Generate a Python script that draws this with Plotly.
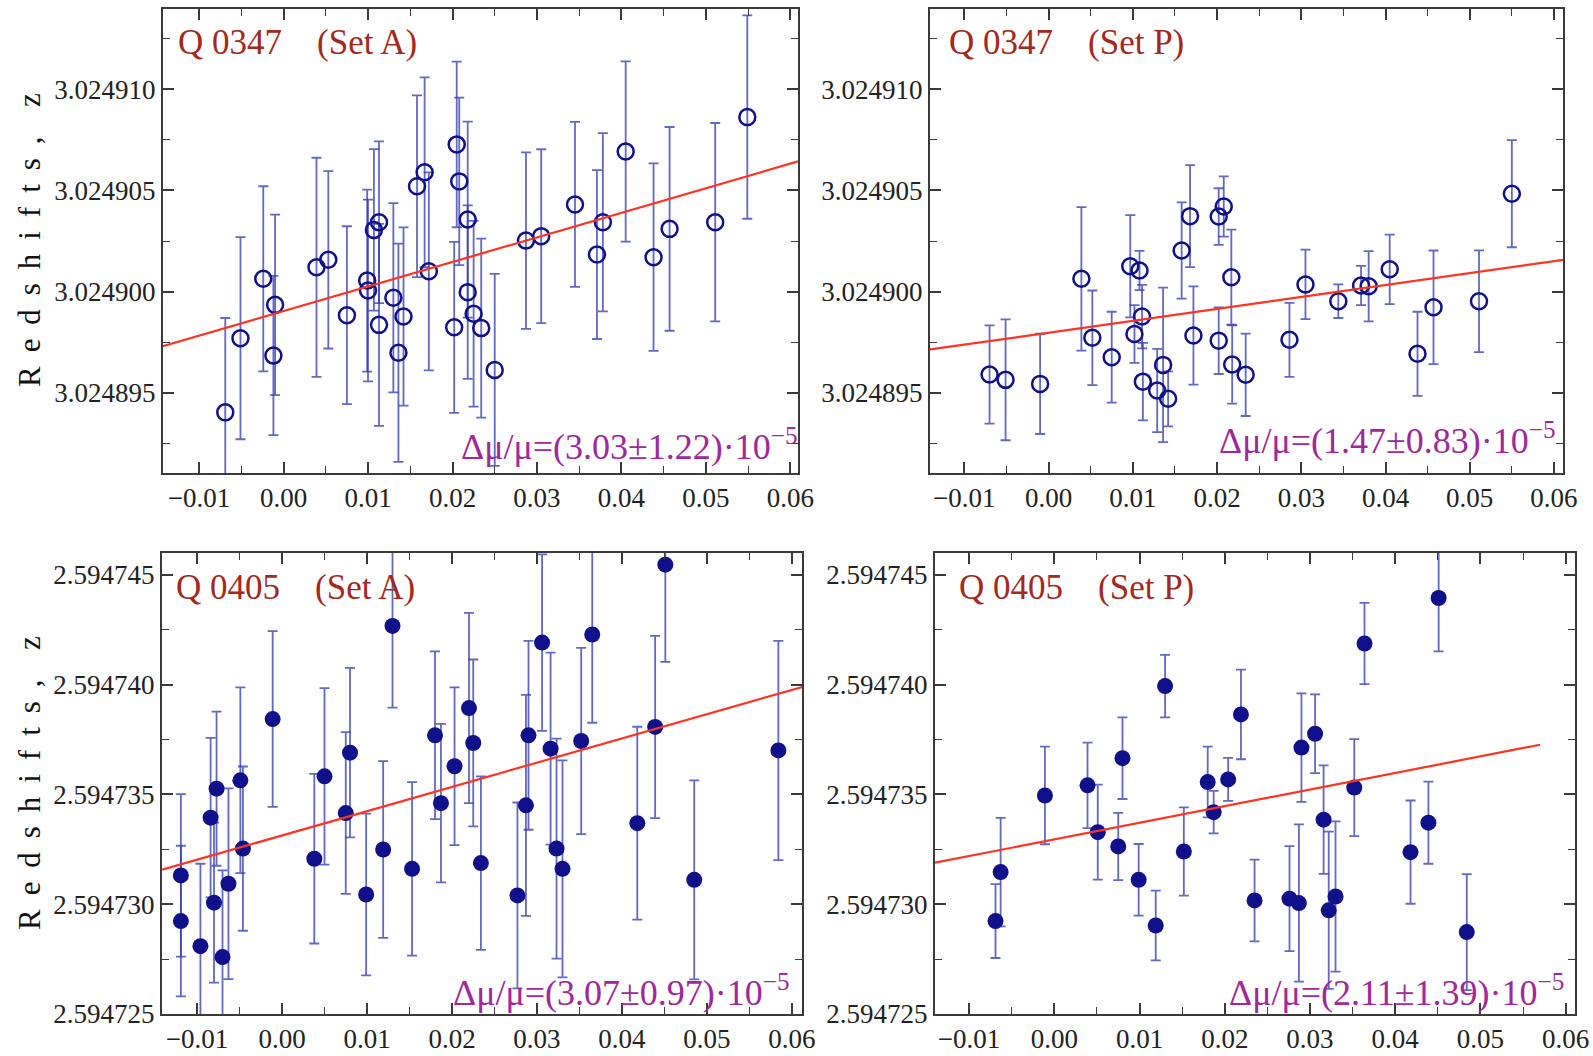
import plotly.graph_objects as go

# ---------------- data ----------------
# Q 0347, Set A
x_q0347_A = [-0.0069, -0.0051, -0.0024, -0.0010, -0.0012, 0.0039, 0.0053, 0.0075, 0.0099, 0.0100,
             0.0107, 0.0113, 0.0113, 0.0130, 0.0136, 0.0142, 0.0158, 0.0167, 0.0172, 0.0205,
             0.0208, 0.0218, 0.0218, 0.0202, 0.0225, 0.0234, 0.0250, 0.0287, 0.0305, 0.0345,
             0.0371, 0.0378, 0.0405, 0.0438, 0.0457, 0.0511, 0.0549]
z_q0347_A = [3.02489402, 3.02489769, 3.02490063, 3.02489934, 3.02489683, 3.02490120, 3.02490157, 3.02489883, 3.02490054, 3.02490005,
             3.02490305, 3.02490343, 3.02489835, 3.02489969, 3.02489697, 3.02489876, 3.02490521, 3.02490590, 3.02490100, 3.02490728,
             3.02490545, 3.02490356, 3.02489997, 3.02489823, 3.02489890, 3.02489819, 3.02489612, 3.02490252, 3.02490274, 3.02490431,
             3.02490183, 3.02490343, 3.02490693, 3.02490170, 3.02490310, 3.02490343, 3.02490863]
err_q0347_A_1e6 = [4.67, 5.00, 4.58, 4.47, 3.94, 5.42, 4.39, 4.40, 4.50, 4.50,
                   4.00, 4.00, 5.00, 4.68, 5.40, 4.41, 4.50, 4.70, 4.90, 4.10,
                   4.14, 4.85, 4.29, 4.23, 4.60, 4.43, 4.75, 4.37, 4.30, 4.08,
                   4.18, 4.41, 4.46, 4.64, 5.04, 4.91, 5.03]
fit_q0347_A_x = [-0.0143, 0.0609]
fit_q0347_A_z = [3.02489729, 3.02490644]

# Q 0347, Set P
x_q0347_P = [-0.0070, -0.0051, -0.0010, 0.0039, 0.0052, 0.0075, 0.0097, 0.0108, 0.0102, 0.0111,
             0.0112, 0.0129, 0.0136, 0.0142, 0.0158, 0.0168, 0.0172, 0.0202, 0.0208, 0.0217,
             0.0202, 0.0218, 0.0234, 0.0286, 0.0305, 0.0344, 0.0371, 0.0380, 0.0405, 0.0438,
             0.0457, 0.0511, 0.0550]
z_q0347_P = [3.02489589, 3.02489563, 3.02489543, 3.02490063, 3.02489771, 3.02489675, 3.02490125, 3.02490104, 3.02489790, 3.02489876,
             3.02489554, 3.02489510, 3.02489637, 3.02489469, 3.02490203, 3.02490373, 3.02489782, 3.02490371, 3.02490421, 3.02490071,
             3.02489757, 3.02489639, 3.02489588, 3.02489761, 3.02490035, 3.02489952, 3.02490030, 3.02490026, 3.02490110, 3.02489692,
             3.02489922, 3.02489952, 3.02490484]
err_q0347_P_1e6 = [2.43, 2.99, 2.48, 3.55, 2.34, 2.25, 2.53, 0.97, 1.43, 1.57,
                   1.92, 2.06, 3.82, 1.36, 2.38, 2.52, 2.43, 1.40, 1.49, 2.35,
                   1.65, 1.94, 2.04, 1.83, 1.72, 0.83, 0.97, 1.74, 1.72, 2.08,
                   2.81, 2.52, 2.65]
fit_q0347_P_x = [-0.0141, 0.0611]
fit_q0347_P_z = [3.02489713, 3.02490157]

# Q 0405, Set A
x_q0405_A = [-0.0119, -0.0119, -0.0096, -0.0084, -0.0077, -0.0080, -0.0063, -0.0070, -0.0049, -0.0046,
             -0.0011, 0.0038, 0.0050, 0.0075, 0.0080, 0.0099, 0.0119, 0.0130, 0.0153, 0.0180,
             0.0187, 0.0203, 0.0220, 0.0225, 0.0234, 0.0277, 0.0287, 0.0290, 0.0306, 0.0316,
             0.0323, 0.0330, 0.0352, 0.0365, 0.0418, 0.0439, 0.0451, 0.0485, 0.0584]
z_q0405_A = [2.59473131, 2.59472923, 2.59472809, 2.59473394, 2.59473526, 2.59473007, 2.59473093, 2.59472759, 2.59473564, 2.59473253,
             2.59473843, 2.59473207, 2.59473582, 2.59473415, 2.59473690, 2.59473044, 2.59473249, 2.59474267, 2.59473161, 2.59473769,
             2.59473460, 2.59473628, 2.59473893, 2.59473734, 2.59473187, 2.59473040, 2.59473450, 2.59473769, 2.59474191, 2.59473708,
             2.59473253, 2.59473161, 2.59473743, 2.59474228, 2.59473369, 2.59473807, 2.59474546, 2.59473111, 2.59473700]
err_q0405_A_1e6 = [3.70, 3.43, 3.75, 3.63, 3.51, 3.64, 4.34, 3.95, 4.23, 3.74,
                   4.00, 3.86, 4.02, 3.68, 3.86, 3.68, 4.02, 3.72, 3.95, 3.82,
                   3.61, 3.59, 4.33, 3.80, 3.95, 4.23, 5.03, 4.30, 4.02, 4.37,
                   5.01, 4.94, 4.24, 4.02, 4.39, 4.15, 4.43, 4.53, 4.99]
fit_q0405_A_x = [-0.0141, 0.0612]
fit_q0405_A_z = [2.59473157, 2.59473989]

# Q 0405, Set P
x_q0405_P = [-0.0069, -0.0063, -0.0011, 0.0039, 0.0051, 0.0075, 0.0080, 0.0099, 0.0119, 0.0130,
             0.0152, 0.0180, 0.0187, 0.0204, 0.0219, 0.0235, 0.0276, 0.0287, 0.0290, 0.0306,
             0.0316, 0.0322, 0.0330, 0.0352, 0.0364, 0.0418, 0.0439, 0.0451, 0.0484]
z_q0405_P = [2.59472923, 2.59473146, 2.59473495, 2.59473541, 2.59473328, 2.59473263, 2.59473665, 2.59473111, 2.59472903, 2.59473993,
             2.59473240, 2.59473556, 2.59473419, 2.59473568, 2.59473864, 2.59473017, 2.59473025, 2.59473005, 2.59473713, 2.59473776,
             2.59473385, 2.59472972, 2.59473035, 2.59473531, 2.59474187, 2.59473237, 2.59473371, 2.59474394, 2.59472873]
err_q0405_P_1e6 = [1.68, 2.47, 2.22, 1.95, 2.16, 1.53, 1.86, 1.63, 1.59, 1.42,
                   2.01, 1.61, 0.97, 0.98, 2.04, 1.86, 2.39, 3.58, 2.47, 1.79,
                   2.47, 3.58, 3.42, 2.21, 1.85, 2.35, 1.87, 2.43, 2.64]
fit_q0405_P_x = [-0.0140, 0.0570]
fit_q0405_P_z = [2.59473189, 2.59473726]

panel_titles = ["Q 0347    (Set A)", "Q 0347    (Set P)", "Q 0405    (Set A)", "Q 0405    (Set P)"]
panel_results = ["Δμ/μ=(3.03±1.22)·10<sup>−5</sup>", "Δμ/μ=(1.47±0.83)·10<sup>−5</sup>",
                 "Δμ/μ=(3.07±0.97)·10<sup>−5</sup>", "Δμ/μ=(2.11±1.39)·10<sup>−5</sup>"]
y_title = "R\u2009 e\u2009 d\u2009 s\u2009 h\u2009 i\u2009 f\u2009 t\u2009 s\u2009 ,\u2009   z"

# ---------------- layout helpers ----------------
W, H = 1593, 1056
ML, MR, MT, MB = 150, 10, 5, 35
PW, PH = W - ML - MR, H - MT - MB


def px_x(p):
    return (p - ML) / PW


def px_y(p):
    return (H - MB - p) / PH


FONT = "Liberation Serif"
NAVY = "#10108a"
ERRC = "rgba(45,55,178,0.75)"
FITC = "#ff3322"
TITLEC = "#a4281c"
RESC = "#a0289a"

panels = [
    dict(x=x_q0347_A, z=z_q0347_A, e=err_q0347_A_1e6, fx=fit_q0347_A_x, fz=fit_q0347_A_z,
         box=(163, 798, 9, 473), xr=[-0.01427, 0.0609], yr=[3.02489102, 3.02491398],
         open=True, tick0=3.024895, title_pos=(176, 42), res_pos=(800, 444)),
    dict(x=x_q0347_P, z=z_q0347_P, e=err_q0347_P_1e6, fx=fit_q0347_P_x, fz=fit_q0347_P_z,
         box=(930, 1563, 9, 473), xr=[-0.01407, 0.06107], yr=[3.02489102, 3.02491398],
         open=True, tick0=3.024895, title_pos=(947, 42), res_pos=(1558, 438)),
    dict(x=x_q0405_A, z=z_q0405_A, e=err_q0405_A_1e6, fx=fit_q0405_A_x, fz=fit_q0405_A_z,
         box=(162, 802, 553, 1014), xr=[-0.01412, 0.06118], yr=[2.594725, 2.59474599],
         open=False, tick0=2.594725, title_pos=(174, 587), res_pos=(792, 990)),
    dict(x=x_q0405_P, z=z_q0405_P, e=err_q0405_P_1e6, fx=fit_q0405_P_x, fz=fit_q0405_P_z,
         box=(935, 1575, 553, 1014), xr=[-0.0140, 0.0611], yr=[2.594725, 2.59474599],
         open=False, tick0=2.594725, title_pos=(957, 587), res_pos=(1566, 990)),
]

fig = go.Figure()
annotations = []
for i, p in enumerate(panels, start=1):
    xa = "x" if i == 1 else f"x{i}"
    ya = "y" if i == 1 else f"y{i}"
    if p["open"]:
        marker = dict(symbol="circle-open", size=16, color=NAVY, line=dict(width=2.5, color=NAVY))
    else:
        marker = dict(symbol="circle", size=16, color=NAVY, line=dict(width=0))
    fig.add_trace(go.Scatter(
        x=p["x"], y=p["z"], mode="markers", marker=marker, xaxis=xa, yaxis=ya,
        error_y=dict(type="data", array=[v * 1e-6 for v in p["e"]], color=ERRC, thickness=1.8, width=5),
        showlegend=False))
    fig.add_trace(go.Scatter(
        x=p["fx"], y=p["fz"], mode="lines", line=dict(color=FITC, width=2.2),
        xaxis=xa, yaxis=ya, showlegend=False))

    x0, x1, y0, y1 = p["box"]
    axis_common = dict(
        showline=True, linecolor="#3a3a3a", linewidth=2, mirror="allticks",
        ticks="inside", ticklen=11, tickwidth=1.5, tickcolor="#3a3a3a",
        showgrid=False, zeroline=False,
        tickfont=dict(family=FONT, size=27, color="#222222"),
    )
    fig.update_layout(**{
        ("xaxis" if i == 1 else f"xaxis{i}"): dict(
            axis_common, domain=[px_x(x0), px_x(x1)], range=p["xr"], anchor=ya,
            tick0=-0.01, dtick=0.01, tickformat=".2f",
            minor=dict(dtick=0.005, ticks="inside", ticklen=7, tickwidth=1.3, tickcolor="#3a3a3a", showgrid=False)),
        ("yaxis" if i == 1 else f"yaxis{i}"): dict(
            axis_common, domain=[px_y(y1), px_y(y0)], range=p["yr"], anchor=xa,
            tick0=p["tick0"], dtick=5e-6, tickformat=".6f",
            minor=dict(dtick=2.5e-6, ticks="inside", ticklen=7, tickwidth=1.3, tickcolor="#3a3a3a", showgrid=False)),
    })

    tx, ty = p["title_pos"]
    annotations.append(dict(
        text=panel_titles[i - 1], xref="paper", yref="paper", x=px_x(tx), y=px_y(ty),
        xanchor="left", yanchor="middle", showarrow=False,
        font=dict(family=FONT, size=35, color=TITLEC)))
    rx, ry = p["res_pos"]
    annotations.append(dict(
        text=panel_results[i - 1], xref="paper", yref="paper", x=px_x(rx), y=px_y(ry),
        xanchor="right", yanchor="middle", showarrow=False,
        font=dict(family=FONT, size=36, color=RESC)))

for cy in (240, 783):
    annotations.append(dict(
        text=y_title, xref="paper", yref="paper", x=px_x(29), y=px_y(cy),
        xanchor="center", yanchor="middle", textangle=-90, showarrow=False,
        font=dict(family=FONT, size=31, color="#111111")))

fig.update_layout(
    width=W, height=H,
    margin=dict(l=ML, r=MR, t=MT, b=MB, autoexpand=False),
    paper_bgcolor="white", plot_bgcolor="white",
    annotations=annotations,
    font=dict(family=FONT),
)

fig.write_html("out.html", config={"displayModeBar": False},
               post_script="document.body.style.margin='0px';document.body.style.overflow='hidden';")
